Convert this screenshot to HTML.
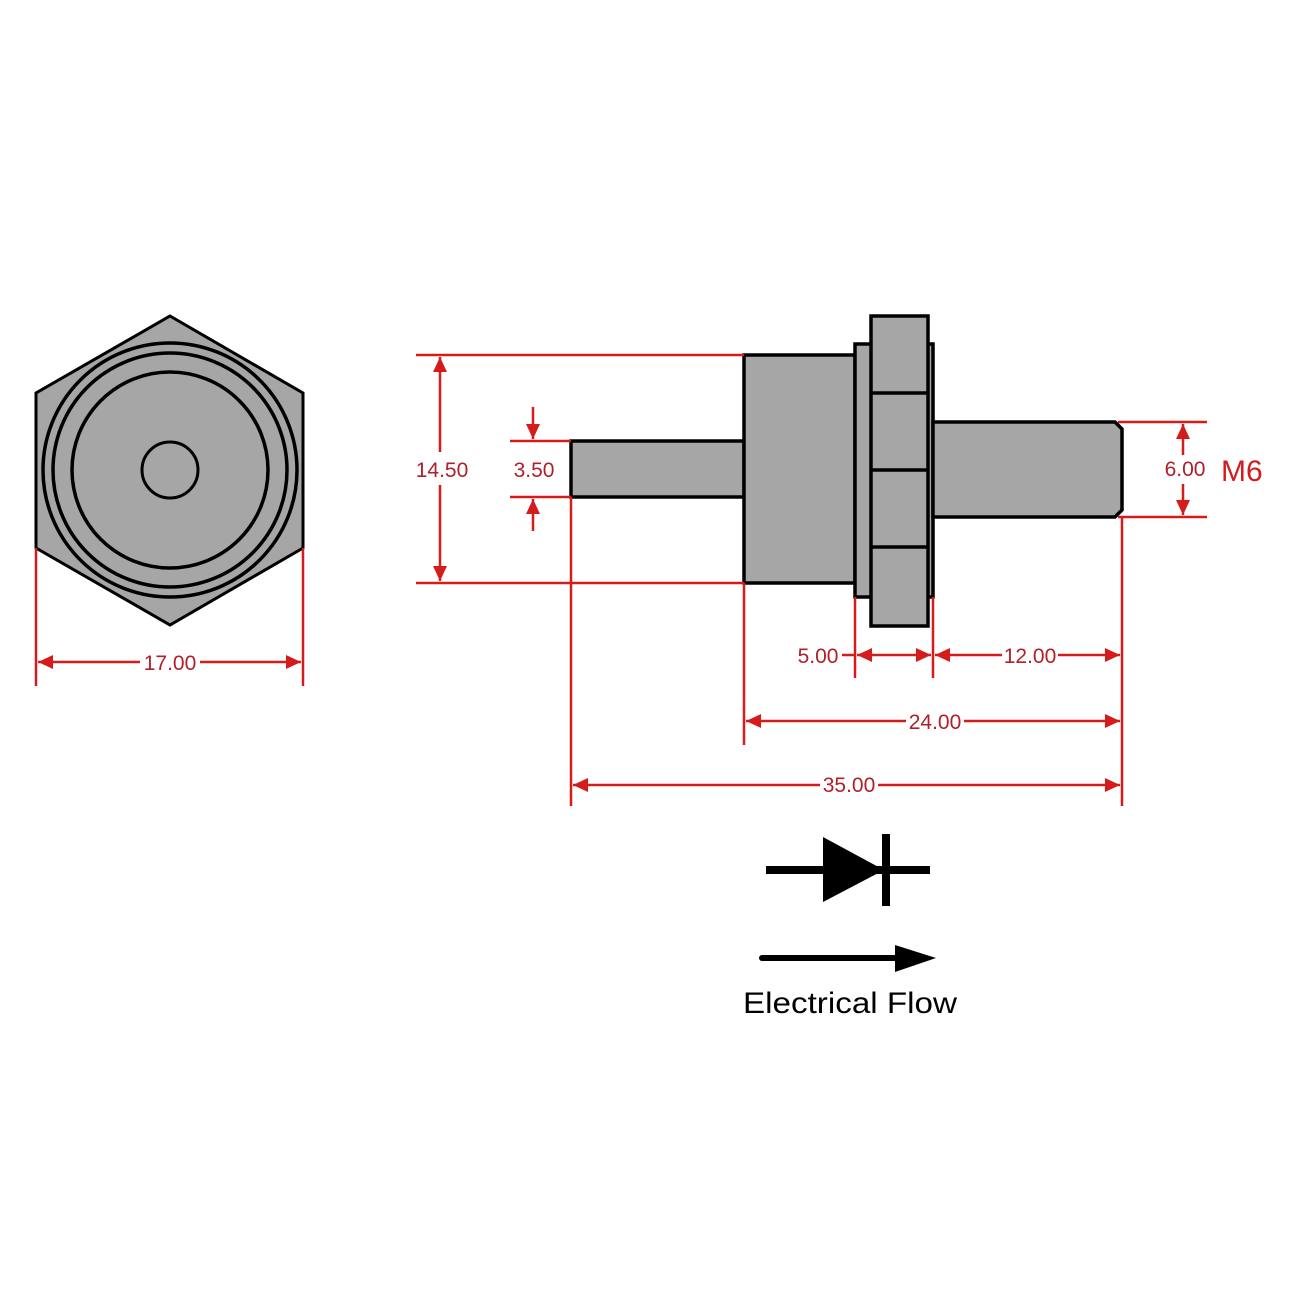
<!DOCTYPE html>
<html><head><meta charset="utf-8"><style>
html,body{margin:0;padding:0;background:#fff;}
svg{display:block;}
text{font-family:"Liberation Sans",Arial,sans-serif;}
</style></head><body>
<svg width="1293" height="1293" viewBox="0 0 1293 1293" xmlns="http://www.w3.org/2000/svg">
<defs>
<marker id="a" viewBox="0 0 15 14" refX="15" refY="7" markerWidth="15" markerHeight="14" markerUnits="userSpaceOnUse" orient="auto-start-reverse">
<path d="M0,0 L15,7 L0,14 Z" fill="#d41c1c"/>
</marker>
</defs>
<!-- hex view -->
<polygon points="170,316 303,393 303,548 170,625 36,548 36,393" fill="#a6a6a6" stroke="#000" stroke-width="3"/>
<circle cx="170" cy="470" r="127" fill="none" stroke="#000" stroke-width="3.5"/>
<circle cx="170" cy="470" r="117" fill="none" stroke="#000" stroke-width="3.5"/>
<circle cx="170" cy="470" r="98" fill="none" stroke="#000" stroke-width="3.5"/>
<circle cx="170" cy="470" r="28" fill="none" stroke="#000" stroke-width="3"/>
<g stroke="#d41c1c" stroke-width="2.5" fill="none">
<line x1="36" y1="548" x2="36" y2="686"/>
<line x1="303" y1="548" x2="303" y2="686"/>
<line x1="38" y1="662" x2="140" y2="662" marker-start="url(#a)"/>
<line x1="200" y1="662" x2="301" y2="662" marker-end="url(#a)"/>
</g>
<text x="170" y="670" font-size="21" fill="#b0202a" text-anchor="middle">17.00</text>

<!-- side view -->
<g stroke="#000" stroke-width="3.5" fill="#a6a6a6">
<rect x="571" y="441" width="173" height="56"/>
<rect x="744" y="355" width="111" height="228"/>
<rect x="855" y="344" width="78" height="253"/>
<rect x="871" y="316" width="57" height="310"/>
<line x1="871" y1="393" x2="928" y2="393"/>
<line x1="871" y1="470" x2="928" y2="470"/>
<line x1="871" y1="547" x2="928" y2="547"/>
<polygon points="933,422 1115,422 1122,429 1122,510 1115,517 933,517"/>
</g>

<g stroke="#d41c1c" stroke-width="2.5" fill="none">
<line x1="416" y1="355" x2="744" y2="355"/>
<line x1="416" y1="583" x2="744" y2="583"/>
<line x1="440" y1="357" x2="440" y2="452" marker-start="url(#a)"/>
<line x1="440" y1="485" x2="440" y2="581" marker-end="url(#a)"/>
<line x1="510" y1="441" x2="571" y2="441"/>
<line x1="510" y1="497" x2="571" y2="497"/>
<line x1="533" y1="407" x2="533" y2="439" marker-end="url(#a)"/>
<line x1="533" y1="531" x2="533" y2="499" marker-end="url(#a)"/>
<line x1="1118" y1="422" x2="1207" y2="422"/>
<line x1="1118" y1="517" x2="1207" y2="517"/>
<line x1="1183" y1="424" x2="1183" y2="455" marker-start="url(#a)"/>
<line x1="1183" y1="484" x2="1183" y2="515" marker-end="url(#a)"/>
<line x1="571" y1="497" x2="571" y2="806"/>
<line x1="744" y1="583" x2="744" y2="745"/>
<line x1="855" y1="597" x2="855" y2="678"/>
<line x1="933" y1="597" x2="933" y2="678"/>
<line x1="1122" y1="517" x2="1122" y2="806"/>
<line x1="842" y1="655" x2="855" y2="655"/>
<line x1="857" y1="655" x2="931" y2="655" marker-start="url(#a)" marker-end="url(#a)"/>
<line x1="935" y1="655" x2="1002" y2="655" marker-start="url(#a)"/>
<line x1="1058" y1="655" x2="1120" y2="655" marker-end="url(#a)"/>
<line x1="746" y1="721" x2="906" y2="721" marker-start="url(#a)"/>
<line x1="964" y1="721" x2="1120" y2="721" marker-end="url(#a)"/>
<line x1="573" y1="785" x2="820" y2="785" marker-start="url(#a)"/>
<line x1="878" y1="785" x2="1120" y2="785" marker-end="url(#a)"/>
</g>
<g font-size="21" fill="#b0202a" text-anchor="middle">
<text x="442" y="477">14.50</text>
<text x="534" y="477">3.50</text>
<text x="1185" y="476">6.00</text>
<text x="818" y="663">5.00</text>
<text x="1030" y="663">12.00</text>
<text x="935" y="729">24.00</text>
<text x="849" y="792">35.00</text>
</g>
<text x="1221" y="481" font-size="30" fill="#d41c1c">M6</text>

<!-- diode -->
<line x1="766" y1="870" x2="930" y2="870" stroke="#000" stroke-width="8"/>
<polygon points="823,837 884,870 823,902" fill="#000"/>
<line x1="886" y1="834" x2="886" y2="906" stroke="#000" stroke-width="8"/>
<line x1="762" y1="958" x2="900" y2="958" stroke="#000" stroke-width="6" stroke-linecap="round"/>
<polygon points="895,945 936,958 895,972" fill="#000"/>
<text x="743" y="1013" font-size="30" fill="#000" textLength="214" lengthAdjust="spacingAndGlyphs">Electrical Flow</text>
</svg>
</body></html>
